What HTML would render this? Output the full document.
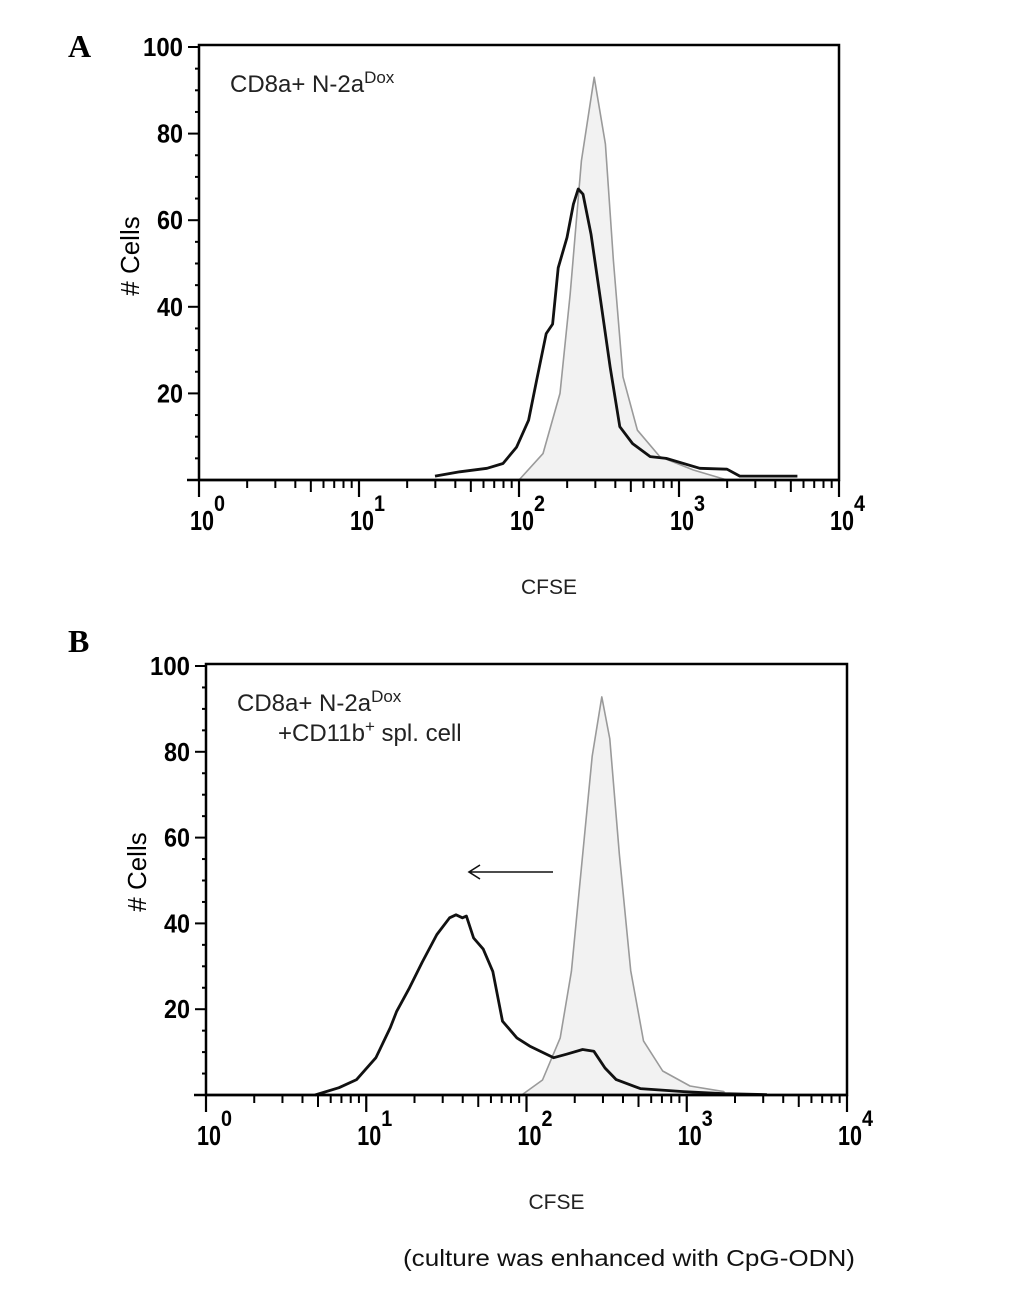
<!DOCTYPE html>
<html><head><meta charset="utf-8">
<style>
html,body{margin:0;padding:0;background:#fff;}
svg{display:block;font-family:"Liberation Sans",sans-serif;}
</style></head>
<body>
<svg id="fig" width="1033" height="1291" viewBox="0 0 1033 1291" xmlns="http://www.w3.org/2000/svg">
<text x="68" y="57" font-family="Liberation Serif,serif" font-weight="bold" font-size="32">A</text>
<text x="68" y="652" font-family="Liberation Serif,serif" font-weight="bold" font-size="32">B</text>
<text x="403" y="1266" font-size="23" fill="#111" textLength="452" lengthAdjust="spacingAndGlyphs">(culture was enhanced with CpG-ODN)</text>
</svg>
<script>
// Panel A data: [log10(CFSE), %cells]
const aControlX = [2.0,2.15,2.256,2.32,2.39,2.47,2.54,2.59,2.65,2.74,2.88,3.09,3.30];
const aControlY = [0,6.1,20,43,73.7,93,77.6,50.7,23.8,11.5,5.4,2.3,0];
const aSampleX = [1.475,1.63,1.80,1.90,1.985,2.06,2.11,2.17,2.21,2.245,2.30,2.34,2.37,2.40,2.45,2.51,2.57,2.63,2.71,2.82,2.92,3.13,3.30,3.38,3.74];
const aSampleY = [0.9,1.9,2.7,3.8,7.6,13.8,23,33.8,36,49,56,63.7,67.2,66,56.8,41.5,26,12.3,8.4,5.4,5,2.7,2.5,0.9,0.9];
// Panel B data
const bControlX = [1.97,2.10,2.21,2.28,2.34,2.41,2.47,2.52,2.58,2.65,2.73,2.85,3.02,3.23,3.25];
const bControlY = [0,3.5,13.3,28.8,52,79,92.8,83,56,29,12.6,5.6,2.1,0.8,0];
const bSampleX = [0.68,0.83,0.94,1.06,1.15,1.19,1.27,1.35,1.44,1.52,1.56,1.60,1.625,1.67,1.73,1.79,1.85,1.94,2.02,2.17,2.25,2.35,2.42,2.49,2.56,2.71,2.98,3.23,3.5];
const bSampleY = [0,1.7,3.6,8.7,15.7,19.5,25,31,37.4,41.3,42,41.3,41.7,36.6,34,28.8,17.2,13.3,11.4,8.7,9.5,10.6,10.2,6.3,3.6,1.5,0.8,0.3,0.1];
const yTicks = [20,40,60,80,100];
const xDecades = [0,1,2,3,4];

const NS = "http://www.w3.org/2000/svg";
const svg = document.getElementById('fig');
function mk(tag, attrs, parent){
  const e = document.createElementNS(NS, tag);
  for (const k in attrs) e.setAttribute(k, attrs[k]);
  (parent||svg).appendChild(e);
  return e;
}

function panel(p, id, cx, cy, sx, sy, label2){
  const g = mk('g', {});
  
  
  const xs = v => p.x0 + (v / 4) * (p.x1 - p.x0);
  const ys = v => p.y0 - v * (p.y0 - p.y100) / 100;
  let d = 'M' + xs(cx[0]) + ',' + ys(0);
  cx.forEach((v,i)=>{ d += ' L' + xs(v).toFixed(1) + ',' + ys(cy[i]).toFixed(1); });
  d += ' L' + xs(cx[cx.length-1]) + ',' + ys(0) + ' Z';
  const ctrl = mk('path', {d: d, fill:'#f2f2f2', stroke:'#9a9a9a', 'stroke-width':1.6, 'stroke-linejoin':'round'}, g);
  
  
  let d2 = '';
  sx.forEach((v,i)=>{ d2 += (i?' L':'M') + xs(v).toFixed(1) + ',' + ys(sy[i]).toFixed(1); });
  const smp = mk('path', {d: d2, fill:'none', stroke:'#111', 'stroke-width':2.8, 'stroke-linejoin':'round'}, g);
  
  
  const fr = mk('rect', {x:p.x0, y:p.y100-2, width:p.x1-p.x0, height:p.y0-p.y100+2, fill:'none', stroke:'#000', 'stroke-width':2.5}, g);
  
  
  for (let v=0; v<=100; v+=5){
    const major = v % 20 === 0;
    mk('line', {x1:p.x0 - (major?11:4), x2:p.x0, y1:ys(v), y2:ys(v), stroke:'#000', 'stroke-width':2}, g);
  }
  yTicks.forEach(v=>{
    const t = mk('text', {x:p.x0-16, y:ys(v)+9, 'text-anchor':'end', 'font-weight':'bold', 'font-size':26, textLength:(v===100?40:26), lengthAdjust:'spacingAndGlyphs'}, g);
    t.textContent = v;
    
    
  });
  mk('line', {x1:p.x0-12, x2:p.x1, y1:p.y0, y2:p.y0, stroke:'#000', 'stroke-width':2.5}, g);
  xDecades.forEach(dc=>{
    mk('line', {x1:xs(dc), x2:xs(dc), y1:p.y0, y2:p.y0+17, stroke:'#000', 'stroke-width':2.2}, g);
    if (dc < 4) for (let m=2; m<=9; m++){
      const xv = xs(dc + Math.log10(m));
      mk('line', {x1:xv, x2:xv, y1:p.y0, y2:p.y0 + (m===5?12:8), stroke:'#000', 'stroke-width':2}, g);
    }
    const t = mk('text', {x:xs(dc)-9, y:p.y0+50, 'font-weight':'bold', 'font-size':28, textLength:24, lengthAdjust:'spacingAndGlyphs'}, g);
    t.textContent = '10';
    
    
    const sup = mk('text', {x:xs(dc)+15, y:p.y0+31, 'font-weight':'bold', 'font-size':22, textLength:11, lengthAdjust:'spacingAndGlyphs'}, g);
    sup.textContent = dc;
  });
  const xt = mk('text', {x:(p.x0+p.x1)/2+30, y:p.y0+114, 'text-anchor':'middle', 'font-size':21, fill:'#222', textLength:56, lengthAdjust:'spacingAndGlyphs'}, g);
  xt.textContent = 'CFSE';
  
  
  const yt = mk('text', {x:0, y:0, 'text-anchor':'middle', 'font-size':26, transform:'translate(' + (p.x0-60) + ',' + p.ylab + ') rotate(-90)'}, g);
  yt.textContent = '# Cells';
  
  
  const an = mk('text', {x:p.x0+31, y:p.y100+45, 'font-size':24, fill:'#222'}, g);
  an.textContent = 'CD8a+ N-2a';
  const ts = mk('tspan', {dy:-9, 'font-size':17}, an);
  ts.textContent = 'Dox';
  
  
  if (label2){
    const a2 = mk('text', {x:p.x0+72, y:p.y100+75, 'font-size':24, fill:'#222'}, g);
    a2.textContent = '+CD11b';
    const s2 = mk('tspan', {dy:-9, 'font-size':17}, a2); s2.textContent = '+';
    const s3 = mk('tspan', {dy:9}, a2); s3.textContent = ' spl. cell';
    
    
  }
  return {xs, ys, g};
}

panel({x0:199, x1:839, y0:480, y100:47, ylab:256}, 'panel-a', aControlX, aControlY, aSampleX, aSampleY, false);
const pb = panel({x0:206, x1:847, y0:1095, y100:666, ylab:872}, 'panel-b', bControlX, bControlY, bSampleX, bSampleY, true);
const arrow = mk('path', {d:'M553,872 L470,872 M480,865 L469,872 L480,879', fill:'none', stroke:'#111', 'stroke-width':1.6}, pb.g);


</script>
</body></html>
